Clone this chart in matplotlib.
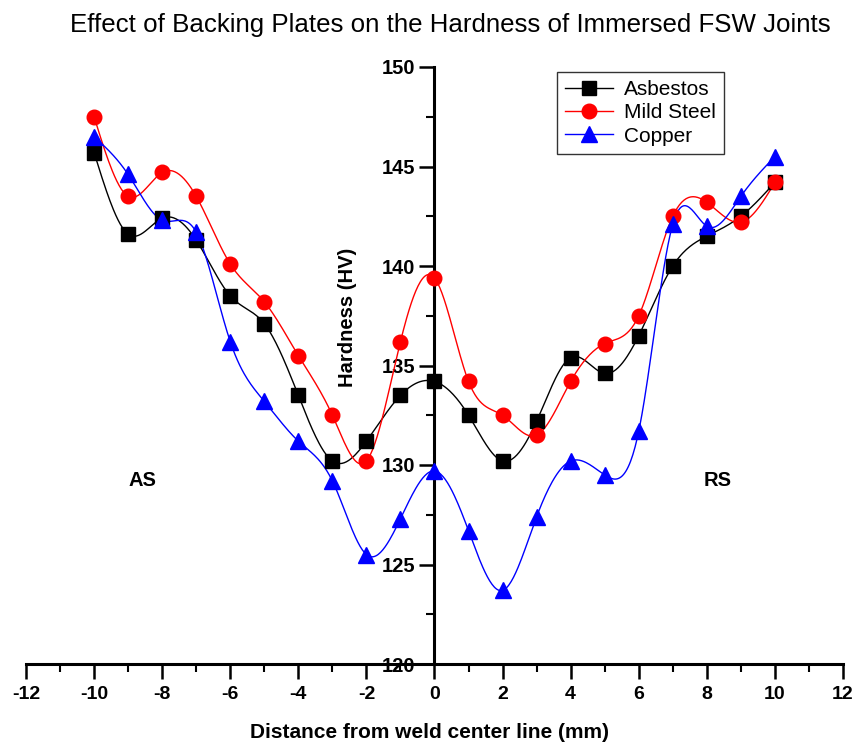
import numpy as np
import matplotlib
matplotlib.use("Agg")
from matplotlib import pyplot as plt
from matplotlib.ticker import MultipleLocator

plt.rcParams["axes.unicode_minus"] = False

# ---------------------- дані ----------------------
distance = [-10, -9, -8, -7, -6, -5, -4, -3, -2, -1, 0,
            1, 2, 3, 4, 5, 6, 7, 8, 9, 10]

asbestos = [145.7, 141.6, 142.4, 141.3, 138.5, 137.1, 133.5, 130.2, 131.2, 133.5, 134.2,
            132.5, 130.2, 132.2, 135.4, 134.6, 136.5, 140.0, 141.5, 142.5, 144.2]

mild_steel = [147.5, 143.5, 144.7, 143.5, 140.1, 138.2, 135.5, 132.5, 130.2, 136.2, 139.4,
              134.2, 132.5, 131.5, 134.2, 136.1, 137.5, 142.5, 143.2, 142.2, 144.2]

copper = [146.5, 144.6, 142.3, 141.7, 136.2, 133.2, 131.2, 129.2, 125.5, 127.3, 129.7,
          126.7, 123.7, 127.4, 130.2, 129.5, 131.7, 142.1, 142.0, 143.5, 145.5]

series_names = ["Asbestos", "Mild Steel", "Copper"]

TITLE = "Effect of Backing Plates on the Hardness of Immersed FSW Joints"
XLABEL = "Distance from weld center line (mm)"
YLABEL = "Hardness (HV)"

NARROW = ["Liberation Sans Narrow", "Liberation Sans", "DejaVu Sans"]
ARIAL = ["Liberation Sans", "DejaVu Sans"]


# натуральний кубічний сплайн для плавного з'єднання точок
def natural_spline(x, y, n=600):
    x = np.asarray(x, dtype=float)
    y = np.asarray(y, dtype=float)
    k = len(x)
    h = np.diff(x)
    A = np.zeros((k, k))
    b = np.zeros(k)
    A[0, 0] = 1
    A[-1, -1] = 1
    for i in range(1, k - 1):
        A[i, i - 1] = h[i - 1]
        A[i, i] = 2 * (h[i - 1] + h[i])
        A[i, i + 1] = h[i]
        b[i] = 6 * ((y[i + 1] - y[i]) / h[i] - (y[i] - y[i - 1]) / h[i - 1])
    m = np.linalg.solve(A, b)
    xs = np.linspace(x[0], x[-1], n)
    idx = np.clip(np.searchsorted(x, xs) - 1, 0, k - 2)
    x0, x1 = x[idx], x[idx + 1]
    y0, y1 = y[idx], y[idx + 1]
    m0, m1 = m[idx], m[idx + 1]
    hh = x1 - x0
    t0 = x1 - xs
    t1 = xs - x0
    ys = (m0 * t0 ** 3 + m1 * t1 ** 3) / (6 * hh) \
        + (y0 / hh - m0 * hh / 6) * t0 + (y1 / hh - m1 * hh / 6) * t1
    return xs, ys


fig = plt.figure(figsize=(8.6, 7.48), dpi=100)
ax = fig.add_axes([26 / 860, 84 / 748, 817 / 860, 597 / 748])

styles = [
    (asbestos, "black", "s", 9.5),
    (mild_steel, "red", "o", 10.5),
    (copper, "blue", "^", 11),
]

for (values, col, mk, ms), name in zip(styles, series_names):
    xs, ys = natural_spline(distance, values)
    ax.plot(xs, ys, color=col, lw=1.0, zorder=2)
    ax.plot(distance, values, ls="none", marker=mk, ms=ms, color=col, zorder=3)
    # тільки для легенди
    ax.plot([], [], color=col, lw=1.0, marker=mk, ms=ms, label=name)

ax.set_xlim(-12, 12)
ax.set_ylim(120, 150)

# осі: вертикальна через x=0, горизонтальна по y=120
ax.spines["left"].set_position(("data", 0))
ax.spines["bottom"].set_position(("data", 120))
ax.spines["top"].set_visible(False)
ax.spines["right"].set_visible(False)
ax.spines["left"].set_linewidth(2.2)
ax.spines["bottom"].set_linewidth(2.2)

ax.xaxis.set_major_locator(MultipleLocator(2))
ax.xaxis.set_minor_locator(MultipleLocator(1))
ax.yaxis.set_major_locator(MultipleLocator(5))
ax.yaxis.set_minor_locator(MultipleLocator(2.5))
ax.tick_params(axis="both", which="major", direction="out", length=11, width=1.8)
ax.tick_params(axis="both", which="minor", direction="out", length=6, width=1.5)
ax.tick_params(axis="y", which="major", pad=3)
ax.tick_params(axis="x", which="major", pad=5)

for lab in ax.get_yticklabels():
    lab.set_fontfamily(ARIAL)
    lab.set_fontweight("bold")
    lab.set_fontsize(14.5)
for lab in ax.get_xticklabels():
    lab.set_fontfamily(NARROW)
    lab.set_fontweight("bold")
    lab.set_fontsize(14)

ax.text((348 - 26) / 817, (664 - 317) / 597, YLABEL, transform=ax.transAxes,
        rotation=90, ha="center", va="center", fontsize=14.5,
        fontweight="bold", family=ARIAL)

fig.text(430 / 860, 1 - 733 / 748, XLABEL, ha="center", va="center",
         fontsize=15, fontweight="bold", family=NARROW)

fig.text(450 / 860, 1 - 25 / 748, TITLE, ha="center", va="center",
         fontsize=18.6, family=ARIAL)

ax.text(-8.58, 129.2, "AS", ha="center", va="center", fontsize=14.5,
        fontweight="bold", family=ARIAL)
ax.text(8.31, 129.2, "RS", ha="center", va="center", fontsize=14.5,
        fontweight="bold", family=ARIAL)

leg = ax.legend(loc="upper left", bbox_to_anchor=((557 - 26) / 817, (664 - 72) / 597),
                borderaxespad=0, fancybox=False, edgecolor="#333333",
                prop={"family": ARIAL, "size": 15}, handlelength=2.3,
                handletextpad=0.5, labelspacing=0.2, borderpad=0.4,
                framealpha=1)
leg.get_frame().set_linewidth(1.0)

fig.savefig("out.png", dpi=100)
